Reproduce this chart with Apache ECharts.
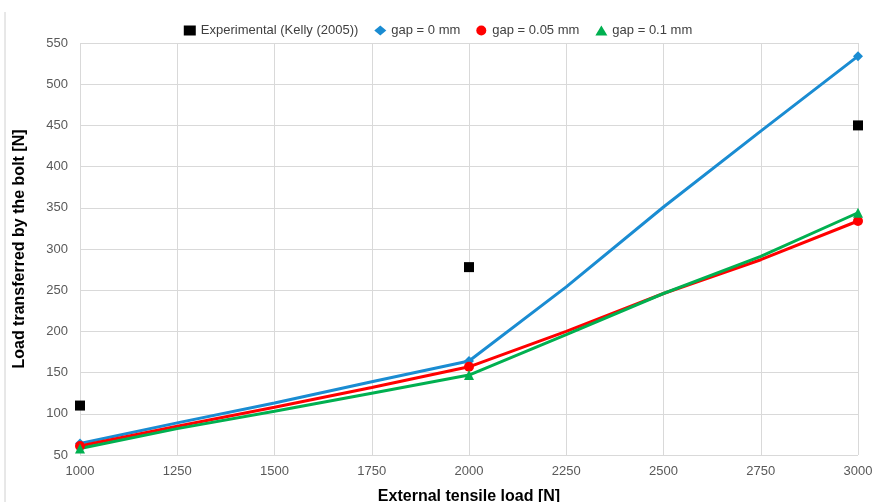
<!DOCTYPE html>
<html><head><meta charset="utf-8">
<script src="https://cdn.jsdelivr.net/npm/echarts@6/dist/echarts.min.js"></script>
<style>html,body{margin:0;padding:0;background:#fff}#c{width:876px;height:502px}</style>
</head><body><div id="c"></div>
<script>
const xLoads = [1000, 1250, 1500, 1750, 2000, 2250, 2500, 2750, 3000];
const markerLoads = [1000, 2000, 3000];
const expLoads = [1000, 2000, 3000];
const expValues = [110, 278, 450];
const gap0 = [64, 89, 113, 139, 164, 254, 351, 443, 534];
const gap005 = [61, 85, 108, 132, 157, 200, 246, 287, 334];
const gap01 = [58, 82, 103, 125, 147, 196, 246, 291, 344];
const names = ['Experimental (Kelly (2005))', 'gap = 0 mm', 'gap = 0.05 mm', 'gap = 0.1 mm'];
const FONT = "'Liberation Sans', Arial, sans-serif";

const pair = (xs, ys) => xs.map((x, i) => [x, ys[i]]);
const symSize = s => (v => markerLoads.includes(v[0]) ? s : 0);

const chart = echarts.init(document.getElementById('c'));
chart.setOption({
  animation: false,
  backgroundColor: '#fff',
  textStyle: { fontFamily: FONT },
  graphic: [{ type: 'line', shape: { x1: 5, y1: 12, x2: 5, y2: 502 }, style: { stroke: '#d0d0d0', lineWidth: 1 } }],
  legend: {
    top: 19, left: 'center', itemGap: 16, itemWidth: 12, itemHeight: 10,
    textStyle: { fontSize: 13, color: '#404040', fontFamily: FONT },
    data: [
      { name: names[0], icon: 'rect' },
      { name: names[1], icon: 'diamond' },
      { name: names[2], icon: 'circle' },
      { name: names[3], icon: 'triangle' }
    ]
  },
  grid: { left: 80, right: 18, top: 43, bottom: 47, containLabel: false, outerBoundsMode: 'none' },
  xAxis: {
    type: 'value', min: 1000, max: 3000, interval: 250,
    name: 'External tensile load [N]', nameLocation: 'middle', nameGap: 34,
    nameTextStyle: { fontSize: 16, fontWeight: 'bold', color: '#000', fontFamily: FONT },
    axisLine: { show: false }, axisTick: { show: false },
    axisLabel: { fontSize: 13, color: '#595959', margin: 10, formatter: v => String(v) },
    splitLine: { show: true, lineStyle: { color: '#d9d9d9', width: 1 } }
  },
  yAxis: {
    type: 'value', min: 50, max: 550, interval: 50,
    name: 'Load transferred by the bolt [N]', nameLocation: 'middle', nameGap: 52,
    nameTextStyle: { fontSize: 16, fontWeight: 'bold', color: '#000', fontFamily: FONT },
    axisLine: { show: false }, axisTick: { show: false },
    axisLabel: { fontSize: 13, color: '#595959', margin: 12, formatter: v => String(v) },
    splitLine: { show: true, lineStyle: { color: '#d9d9d9', width: 1 } }
  },
  series: [
    { name: names[0], type: 'scatter', data: pair(expLoads, expValues), symbol: 'rect', symbolSize: 10,
      itemStyle: { color: '#000', opacity: 1 }, z: 5 },
    { name: names[1], type: 'line', data: pair(xLoads, gap0), symbol: 'diamond', symbolSize: symSize(10),
      showAllSymbol: true, lineStyle: { color: '#1a8cd2', width: 3 }, itemStyle: { color: '#1a8cd2' }, z: 3 },
    { name: names[2], type: 'line', data: pair(xLoads, gap005), symbol: 'circle', symbolSize: symSize(10),
      showAllSymbol: true, lineStyle: { color: '#ff0000', width: 3 }, itemStyle: { color: '#ff0000' }, z: 3 },
    { name: names[3], type: 'line', data: pair(xLoads, gap01), symbol: 'triangle', symbolSize: symSize(10),
      showAllSymbol: true, lineStyle: { color: '#00b050', width: 3 }, itemStyle: { color: '#00b050' }, z: 3 }
  ]
});
</script></body></html>
